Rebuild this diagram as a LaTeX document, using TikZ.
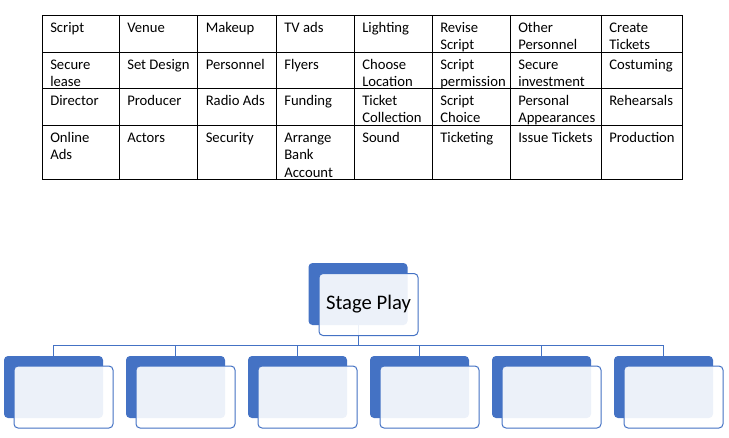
\documentclass[tikz,border=0pt]{standalone}
\usepackage{fontspec}
\setmainfont{Carlito}
\definecolor{accent}{HTML}{4472C4}
\tikzset{
  cell/.style={anchor=base west, inner sep=0pt, align=left,
    font=\fontsize{11}{13.1}\selectfont},
  back/.style={fill=accent, rounded corners=3pt, minimum width=74.25pt,
    minimum height=46.5pt, inner sep=0pt},
  front/.style={draw=accent, line width=0.75pt, fill=white, fill opacity=0.9,
    text opacity=1, rounded corners=3pt, minimum width=74.25pt,
    minimum height=46.5pt, inner sep=0pt},
  conn/.style={draw=accent, line width=0.75pt}
}
\begin{document}
\begin{tikzpicture}[x=0.75pt,y=-0.75pt]
\useasboundingbox (0,0) rectangle (729,437);
\draw[line width=0.75pt] (42,15) rectangle (682,179);
\foreach \cx in {119,197.5,276,354,432,510,601}
  \draw[line width=0.75pt] (\cx,15) -- (\cx,179);
\foreach \ry in {52,88,125}
  \draw[line width=0.75pt] (42,\ry) -- (682,\ry);
% base of a cell = baseline of its last line
\node[cell] (a1) at (50,32.3) {Script};
\node[cell] (a2) at (127,32.3) {Venue};
\node[cell] (a3) at (205.5,32.3) {Makeup};
\node[cell] (a4) at (284,32.3) {TV ads};
\node[cell] (a5) at (362,32.3) {Lighting};
\node[cell] (a6) at (440,49.8) {Revise\\Script};
\node[cell] (a7) at (518,49.8) {Other\\Personnel};
\node[cell] (a8) at (609,49.8) {Create\\Tickets};
\node[cell] (b1) at (50,86.8) {Secure\\lease};
\node[cell] (b2) at (127,69.3) {Set Design};
\node[cell] (b3) at (205.5,69.3) {Personnel};
\node[cell] (b4) at (284,69.3) {Flyers};
\node[cell] (b5) at (362,86.8) {Choose\\Location};
\node[cell] (b6) at (440,86.8) {Script\\permission};
\node[cell] (b7) at (518,86.8) {Secure\\investment};
\node[cell] (b8) at (609,69.3) {Costuming};
\node[cell] (c1) at (50,105.3) {Director};
\node[cell] (c2) at (127,105.3) {Producer};
\node[cell] (c3) at (205.5,105.3) {Radio Ads};
\node[cell] (c4) at (284,105.3) {Funding};
\node[cell] (c5) at (362,122.8) {Ticket\\Collection};
\node[cell] (c6) at (440,122.8) {Script\\Choice};
\node[cell] (c7) at (518,122.8) {Personal\\Appearances};
\node[cell] (c8) at (609,105.3) {Rehearsals};
\node[cell] (d1) at (50,159.8) {Online\\Ads};
\node[cell] (d2) at (127,142.3) {Actors};
\node[cell] (d3) at (205.5,142.3) {Security};
\node[cell] (d4) at (284,177.3) {Arrange\\Bank\\Account};
\node[cell] (d5) at (362,142.3) {Sound};
\node[cell] (d6) at (440,142.3) {Ticketing};
\node[cell] (d7) at (518,142.3) {Issue Tickets};
\node[cell] (d8) at (609,142.3) {Production};
% hierarchy
\node[back] (root) at (358,294) {};
\foreach \i/\kx in {1/53.5,2/175.5,3/297.5,4/419.5,5/541.5,6/663.5}
  \node[back] (kid\i) at (\kx,387) {};
\coordinate (bus) at (358,345.5);
\foreach \i in {1,...,6}
  \draw[conn] (root.south) -- (root.south |- bus) -| (kid\i.north);
\node[front, font=\fontsize{15.5}{18}\selectfont] (rootf) at (368.5,304.5) {Stage Play};
\foreach \i in {1,...,6}
  \node[front] (kidf\i) at ([shift={(10,10)}]kid\i.center) {};
\end{tikzpicture}
\end{document}
